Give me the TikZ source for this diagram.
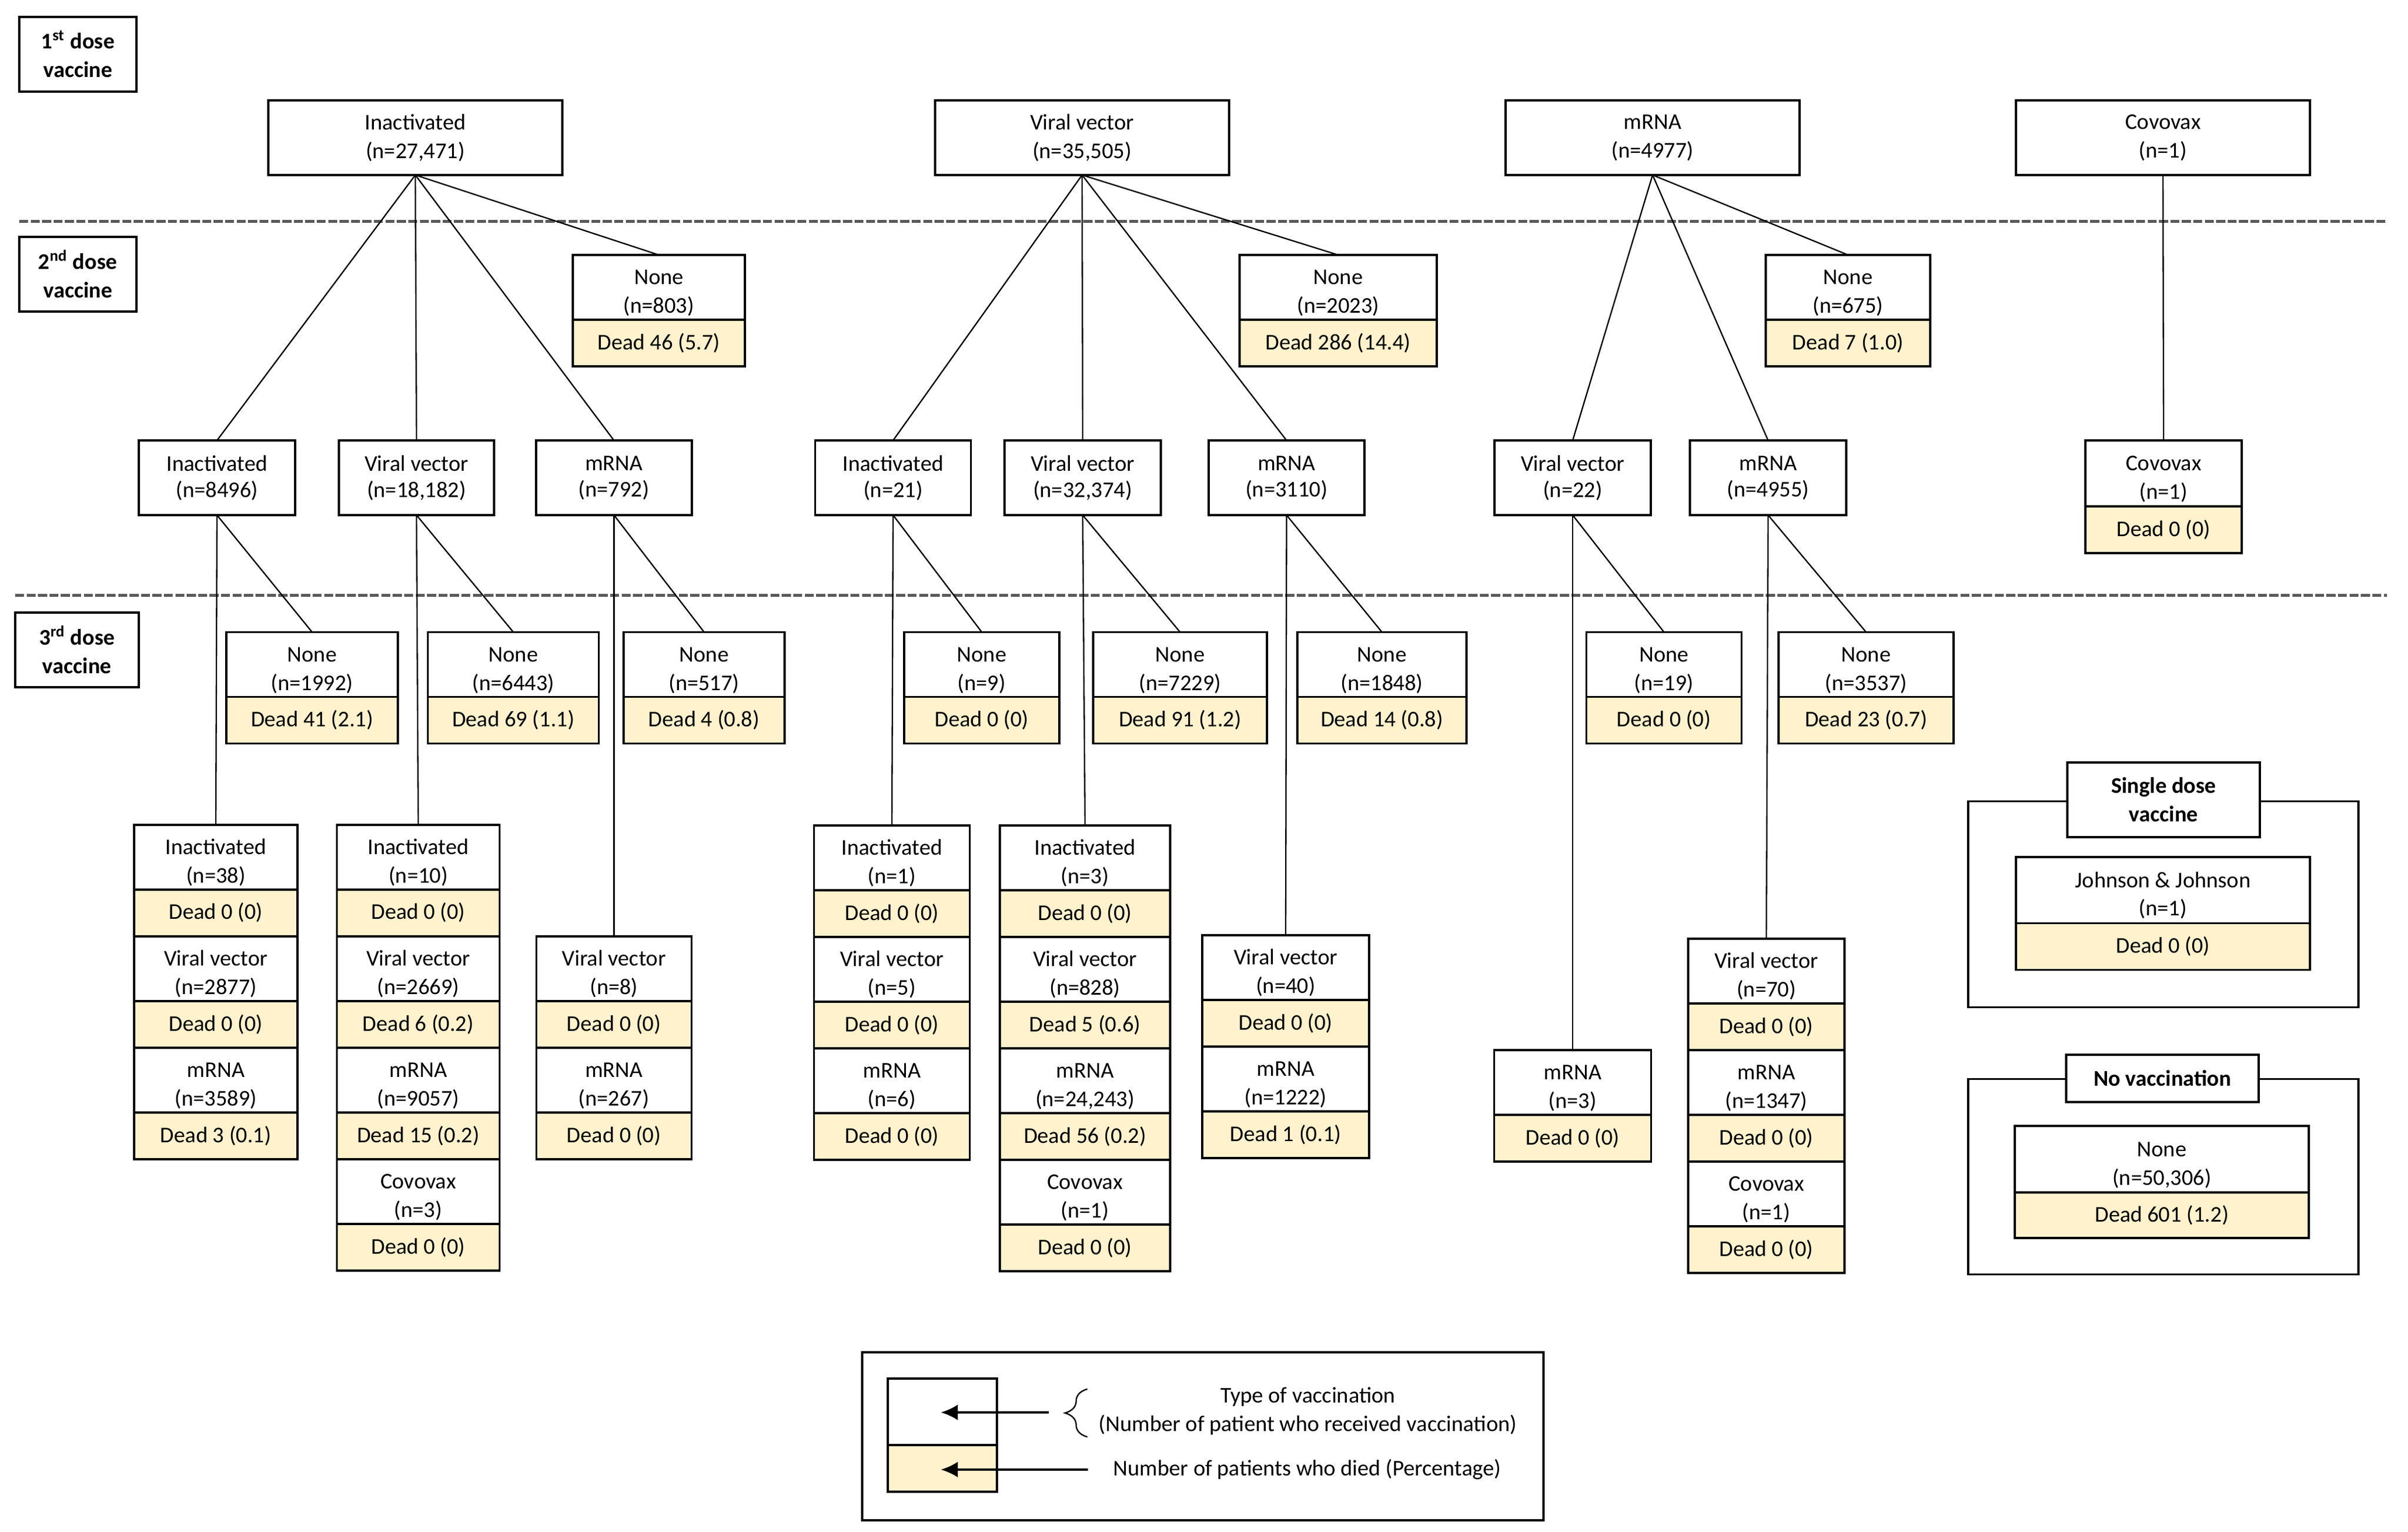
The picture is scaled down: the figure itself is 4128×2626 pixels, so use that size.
\documentclass[tikz,border=0pt]{standalone}
\usepackage{fontspec}
\setmainfont{Carlito}
\usetikzlibrary{arrows.meta,decorations.pathreplacing}
\definecolor{deadfill}{RGB}{255,242,204}
\definecolor{dashgray}{RGB}{89,89,89}
\newcommand{\lowtext}[1]{\raisebox{-2.6pt}[\height][\depth]{\begin{tabular}{@{}c@{}}#1\end{tabular}}}

\begin{document}
\begin{tikzpicture}[x=0.26pt,y=0.26pt,yscale=-1,xscale=1,
  every node/.style={font=\fontsize{10}{12.7}\selectfont},
  boxw/.style={minimum width=#1*0.26pt},
  boxh/.style={minimum height=#1*0.26pt},
  cell/.style={draw, line width=1pt, inner sep=0pt, outer sep=0pt, fill=white, align=center},
  namecell/.style={cell, anchor=north, boxh=111},
  deadcell/.style={cell, anchor=north, boxh=80, fill=deadfill},
  dosebox/.style={cell, boxh=128, font=\fontsize{10}{12.7}\selectfont\bfseries},
  frame/.style={draw, line width=1pt, inner sep=0pt, outer sep=0pt},
  link/.style={line width=0.6pt},
  level/.style={draw=dashgray, line width=1.3pt, dash pattern=on 4pt off 1.1pt},
  legarrow/.style={line width=0.9pt, -{Latex[length=7.5pt,width=7pt]}},
]
\useasboundingbox (0,0) rectangle (4128,2626);

%Straight Lines: dose levels
\draw [level] (33,379.5) -- (4092,379.5);
\draw [level] (26,1020.7) -- (4092,1020.7);

% Text Node: dose labels
\node [dosebox, boxw=201] (lab1) at (133.5,93) {1\textsuperscript{st} dose\\vaccine};
\node [dosebox, boxw=201] (lab2) at (133.5,470) {2\textsuperscript{nd} dose\\vaccine};
\node [dosebox, boxw=212] (lab3) at (132,1114) {3\textsuperscript{rd} dose\\vaccine};

%Shape: Rectangle -- 1st dose
\node [cell, boxw=504, boxh=128] (f1) at (712,236) {Inactivated\\(n=27,471)};
\node [cell, boxw=504, boxh=128] (f2) at (1855,236) {Viral vector\\(n=35,505)};
\node [cell, boxw=504, boxh=128] (f3) at (2833,236) {mRNA\\(n=4977)};
\node [cell, boxw=504, boxh=128] (f4) at (3708,236) {Covovax\\(n=1)};

%Shape: Rectangle -- 2nd dose none
\node [namecell, boxw=295] (n1) at (1129.5,437) {\lowtext{None\\(n=803)}};
\node [deadcell, boxw=295] (n1d) at (n1.south) {Dead 46 (5.7)};
\node [namecell, boxw=338] (n2) at (2294,437) {\lowtext{None\\(n=2023)}};
\node [deadcell, boxw=338] (n2d) at (n2.south) {Dead 286 (14.4)};
\node [namecell, boxw=282] (n3) at (3168,437) {\lowtext{None\\(n=675)}};
\node [deadcell, boxw=282] (n3d) at (n3.south) {Dead 7 (1.0)};

%Shape: Rectangle -- 2nd dose
\node [cell, boxw=268, boxh=128] (s11) at (372,819) {Inactivated\\[-1pt](n=8496)};
\node [cell, boxw=266, boxh=128] (s12) at (714,819) {Viral vector\\[-1pt](n=18,182)};
\node [cell, boxw=267, boxh=128] (s13) at (1052.5,819) {mRNA\\[-1pt](n=792)};
\node [cell, boxw=267, boxh=128] (s21) at (1531,819) {Inactivated\\[-1pt](n=21)};
\node [cell, boxw=268, boxh=128] (s22) at (1856,819) {Viral vector\\[-1pt](n=32,374)};
\node [cell, boxw=267, boxh=128] (s23) at (2205.5,819) {mRNA\\[-1pt](n=3110)};
\node [cell, boxw=268, boxh=128] (s31) at (2696,819) {Viral vector\\[-1pt](n=22)};
\node [cell, boxw=268, boxh=128] (s32) at (3031,819) {mRNA\\[-1pt](n=4955)};
\node [namecell, boxw=268, boxh=113] (s41) at (3709,755) {\lowtext{Covovax\\(n=1)}};
\node [deadcell, boxw=268] (s41d) at (s41.south) {Dead 0 (0)};

%Shape: Rectangle -- 3rd dose none
\node [namecell, boxw=294] (t11) at (535,1083.5) {\lowtext{None\\(n=1992)}};
\node [deadcell, boxw=294] (t11d) at (t11.south) {Dead 41 (2.1)};
\node [namecell, boxw=293] (t12) at (880,1083.5) {\lowtext{None\\(n=6443)}};
\node [deadcell, boxw=293] (t12d) at (t12.south) {Dead 69 (1.1)};
\node [namecell, boxw=276] (t13) at (1207,1083.5) {\lowtext{None\\(n=517)}};
\node [deadcell, boxw=276] (t13d) at (t13.south) {Dead 4 (0.8)};
\node [namecell, boxw=266] (t21) at (1683,1083.5) {\lowtext{None\\(n=9)}};
\node [deadcell, boxw=266] (t21d) at (t21.south) {Dead 0 (0)};
\node [namecell, boxw=298] (t22) at (2023,1083.5) {\lowtext{None\\(n=7229)}};
\node [deadcell, boxw=298] (t22d) at (t22.south) {Dead 91 (1.2)};
\node [namecell, boxw=290] (t23) at (2369,1083.5) {\lowtext{None\\(n=1848)}};
\node [deadcell, boxw=290] (t23d) at (t23.south) {Dead 14 (0.8)};
\node [namecell, boxw=266] (t31) at (2852.5,1083.5) {\lowtext{None\\(n=19)}};
\node [deadcell, boxw=266] (t31d) at (t31.south) {Dead 0 (0)};
\node [namecell, boxw=300] (t32) at (3199,1083.5) {\lowtext{None\\(n=3537)}};
\node [deadcell, boxw=300] (t32d) at (t32.south) {Dead 23 (0.7)};

%Shape: Rectangle -- 3rd dose after inactivated
\node [namecell, boxw=280] (a1) at (370,1413.6) {\lowtext{Inactivated\\(n=38)}};
\node [deadcell, boxw=280] (a1d) at (a1.south) {Dead 0 (0)};
\node [namecell, boxw=280] (a2) at (a1d.south) {\lowtext{Viral vector\\(n=2877)}};
\node [deadcell, boxw=280] (a2d) at (a2.south) {Dead 0 (0)};
\node [namecell, boxw=280] (a3) at (a2d.south) {\lowtext{mRNA\\(n=3589)}};
\node [deadcell, boxw=280] (a3d) at (a3.south) {Dead 3 (0.1)};

\node [namecell, boxw=279] (b1) at (717,1413.6) {\lowtext{Inactivated\\(n=10)}};
\node [deadcell, boxw=279] (b1d) at (b1.south) {Dead 0 (0)};
\node [namecell, boxw=279] (b2) at (b1d.south) {\lowtext{Viral vector\\(n=2669)}};
\node [deadcell, boxw=279] (b2d) at (b2.south) {Dead 6 (0.2)};
\node [namecell, boxw=279] (b3) at (b2d.south) {\lowtext{mRNA\\(n=9057)}};
\node [deadcell, boxw=279] (b3d) at (b3.south) {Dead 15 (0.2)};
\node [namecell, boxw=279] (b4) at (b3d.south) {\lowtext{Covovax\\(n=3)}};
\node [deadcell, boxw=279] (b4d) at (b4.south) {Dead 0 (0)};

\node [namecell, boxw=266] (c1) at (1052.5,1604.6) {\lowtext{Viral vector\\(n=8)}};
\node [deadcell, boxw=266] (c1d) at (c1.south) {Dead 0 (0)};
\node [namecell, boxw=266] (c2) at (c1d.south) {\lowtext{mRNA\\(n=267)}};
\node [deadcell, boxw=266] (c2d) at (c2.south) {Dead 0 (0)};

%Shape: Rectangle -- 3rd dose after viral vector
\node [namecell, boxw=267] (d1) at (1529,1414.8) {\lowtext{Inactivated\\(n=1)}};
\node [deadcell, boxw=267] (d1d) at (d1.south) {Dead 0 (0)};
\node [namecell, boxw=267] (d2) at (d1d.south) {\lowtext{Viral vector\\(n=5)}};
\node [deadcell, boxw=267] (d2d) at (d2.south) {Dead 0 (0)};
\node [namecell, boxw=267] (d3) at (d2d.south) {\lowtext{mRNA\\(n=6)}};
\node [deadcell, boxw=267] (d3d) at (d3.south) {Dead 0 (0)};

\node [namecell, boxw=292] (e1) at (1860,1414.8) {\lowtext{Inactivated\\(n=3)}};
\node [deadcell, boxw=292] (e1d) at (e1.south) {Dead 0 (0)};
\node [namecell, boxw=292] (e2) at (e1d.south) {\lowtext{Viral vector\\(n=828)}};
\node [deadcell, boxw=292] (e2d) at (e2.south) {Dead 5 (0.6)};
\node [namecell, boxw=292] (e3) at (e2d.south) {\lowtext{mRNA\\(n=24,243)}};
\node [deadcell, boxw=292] (e3d) at (e3.south) {Dead 56 (0.2)};
\node [namecell, boxw=292] (e4) at (e3d.south) {\lowtext{Covovax\\(n=1)}};
\node [deadcell, boxw=292] (e4d) at (e4.south) {Dead 0 (0)};

\node [namecell, boxw=286] (g1) at (2204,1603) {\lowtext{Viral vector\\(n=40)}};
\node [deadcell, boxw=286] (g1d) at (g1.south) {Dead 0 (0)};
\node [namecell, boxw=286] (g2) at (g1d.south) {\lowtext{mRNA\\(n=1222)}};
\node [deadcell, boxw=286] (g2d) at (g2.south) {Dead 1 (0.1)};

%Shape: Rectangle -- 3rd dose after mRNA
\node [namecell, boxw=269] (h1) at (2696,1800) {\lowtext{mRNA\\(n=3)}};
\node [deadcell, boxw=269] (h1d) at (h1.south) {Dead 0 (0)};

\node [namecell, boxw=268] (k1) at (3028,1609) {\lowtext{Viral vector\\(n=70)}};
\node [deadcell, boxw=268] (k1d) at (k1.south) {Dead 0 (0)};
\node [namecell, boxw=268] (k2) at (k1d.south) {\lowtext{mRNA\\(n=1347)}};
\node [deadcell, boxw=268] (k2d) at (k2.south) {Dead 0 (0)};
\node [namecell, boxw=268] (k3) at (k2d.south) {\lowtext{Covovax\\(n=1)}};
\node [deadcell, boxw=268] (k3d) at (k3.south) {Dead 0 (0)};

%Straight Lines
\draw [link] (f1.south) -- (s11.north);
\draw [link] (f1.south) -- (s12.north);
\draw [link] (f1.south) -- (s13.north);
\draw [link] (f1.south) -- (n1.north);
\draw [link] (f2.south) -- (s21.north);
\draw [link] (f2.south) -- (s22.north);
\draw [link] (f2.south) -- (s23.north);
\draw [link] (f2.south) -- (n2.north);
\draw [link] (f3.south) -- (s31.north);
\draw [link] (f3.south) -- (s32.north);
\draw [link] (f3.south) -- (n3.north);
\draw [link] (f4.south) -- (s41.north);
\draw [link] (s11.south) -- (a1.north);
\draw [link] (s11.south) -- (t11.north);
\draw [link] (s12.south) -- (b1.north);
\draw [link] (s12.south) -- (t12.north);
\draw [link] (s13.south) -- (c1.north);
\draw [link] (s13.south) -- (t13.north);
\draw [link] (s21.south) -- (d1.north);
\draw [link] (s21.south) -- (t21.north);
\draw [link] (s22.south) -- (e1.north);
\draw [link] (s22.south) -- (t22.north);
\draw [link] (s23.south) -- (g1.north);
\draw [link] (s23.south) -- (t23.north);
\draw [link] (s31.south) -- (h1.north);
\draw [link] (s31.south) -- (t31.north);
\draw [link] (s32.south) -- (k1.north);
\draw [link] (s32.south) -- (t32.north);

%Shape: Rectangle -- single dose vaccine
\node [frame, boxw=669, boxh=353] (single) at (3708.5,1550) {};
\node [dosebox, boxw=330] (singlet) at (3709,1371) {Single dose\\vaccine};
\node [namecell, boxw=504, boxh=113.5] (jj) at (3708,1469) {\lowtext{Johnson \& Johnson\\(n=1)}};
\node [deadcell, boxw=504] (jjd) at (jj.south) {Dead 0 (0)};

%Shape: Rectangle -- no vaccination
\node [frame, boxw=669, boxh=335] (novac) at (3708.5,2017) {};
\node [dosebox, boxw=330, boxh=81] (novact) at (3707,1848.5) {No vaccination};
\node [namecell, boxw=504, boxh=114] (nv) at (3706,1930) {\lowtext{None\\(n=50,306)}};
\node [deadcell, boxw=504, boxh=78] (nvd) at (nv.south) {Dead 601 (1.2)};

%Shape: Rectangle -- legend
\node [frame, boxw=1168, boxh=288] (legend) at (2062,2462) {};
\node [namecell, boxw=187, boxh=114] (lgname) at (1615.5,2363) {};
\node [deadcell, boxw=187] (lgdead) at (lgname.south) {};
\coordinate (lgtail1) at (1798,2421);
\coordinate (lgtip1) at (1613,2421);
\coordinate (lgtail2) at (1864.5,2519);
\coordinate (lgtip2) at (1613,2519);
\draw [legarrow] (lgtail1) -- (lgtip1);
\draw [legarrow] (lgtail2) -- (lgtip2);
\draw [line width=0.6pt, decorate, decoration={brace, amplitude=10pt}] (1864,2463) -- (1864,2381);
% Text Node
\node [align=center] (lgtype) at (2242,2419) {Type of vaccination\\(Number of patient who received vaccination)};
% Text Node
\node (lgdied) at (2241,2519) {Number of patients who died (Percentage)};

\end{tikzpicture}
\end{document}
